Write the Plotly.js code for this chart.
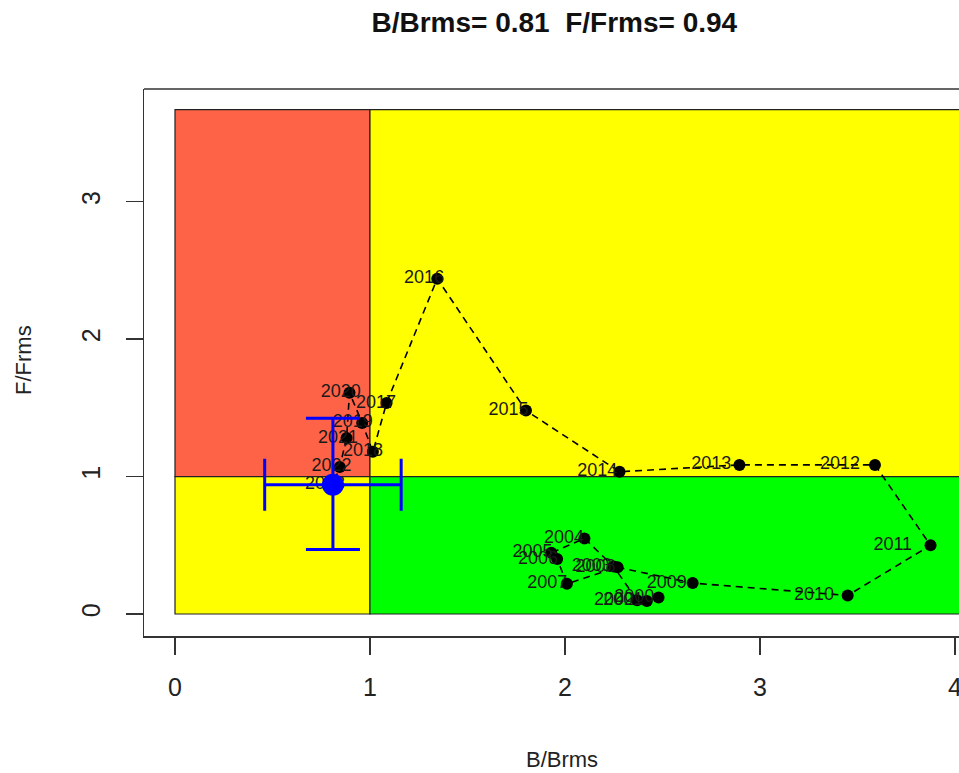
<!DOCTYPE html>
<html>
<head>
<meta charset="utf-8">
<script src="https://cdn.plot.ly/plotly-3.0.1.min.js"></script>
<style>html,body{margin:0;padding:0;background:#fff;}#chart{width:959px;height:773px;}</style>
</head>
<body>
<div id="chart"></div>
<script>
// Years and trajectory values (B/Brms, F/Frms)
const years = ["2000","2001","2002","2003","2004","2005","2006","2007","2008","2009","2010","2011",
               "2012","2013","2014","2015","2016","2017","2018","2019","2020","2021","2022","2023"];
const bRatio = [2.48, 2.42, 2.37, 2.25, 2.10, 1.93, 1.96, 2.01, 2.27, 2.655, 3.45, 3.875,
                3.59, 2.895, 2.28, 1.80, 1.345, 1.085, 1.015, 0.96, 0.895, 0.88, 0.845, 0.81];
const fRatio = [0.12, 0.095, 0.10, 0.345, 0.55, 0.445, 0.40, 0.22, 0.34, 0.225, 0.135, 0.50,
                1.085, 1.085, 1.035, 1.48, 2.44, 1.535, 1.18, 1.39, 1.61, 1.28, 1.07, 0.94];
// Current status and its confidence interval
const curB = 0.81, curF = 0.94;
const bLow = 0.46, bHigh = 1.16;
const fLow = 0.47, fHigh = 1.425;
// Quadrant extents
const xZoneMax = 4.3, yZoneMax = 3.67;
const xTicks = [0, 1, 2, 3, 4];
const yTicks = [0, 1, 2, 3];

const FONT = "Liberation Sans, Arial, Helvetica, sans-serif";
const labelX = bRatio.map(v => v * 0.95);

const traces = [
  {
    x: bRatio, y: fRatio, mode: "lines+markers", type: "scatter",
    line: {color: "#000", width: 1.6, dash: "7px,5px"},
    marker: {color: "#000", size: 12},
    hoverinfo: "skip", showlegend: false
  },
  {
    x: labelX, y: fRatio, text: years, mode: "text", type: "scatter",
    textposition: "middle center",
    textfont: {family: FONT, size: 18, color: "#1a1a1a"},
    hoverinfo: "skip", showlegend: false
  },
  {
    x: [curB], y: [curF], mode: "markers", type: "scatter",
    marker: {color: "#0000ff", size: 22},
    error_x: {type: "data", symmetric: false, array: [bHigh - curB], arrayminus: [curB - bLow],
              color: "#0000ff", thickness: 3, width: 26},
    error_y: {type: "data", symmetric: false, array: [fHigh - curF], arrayminus: [curF - fLow],
              color: "#0000ff", thickness: 3, width: 27},
    hoverinfo: "skip", showlegend: false
  }
];

const zoneLine = {color: "#222", width: 1.2};
const shapes = [
  {type: "rect", xref: "x", yref: "y", x0: 0, x1: 1, y0: 1, y1: yZoneMax, fillcolor: "#ff6347", line: zoneLine, layer: "below"},
  {type: "rect", xref: "x", yref: "y", x0: 1, x1: xZoneMax, y0: 1, y1: yZoneMax, fillcolor: "#ffff00", line: zoneLine, layer: "below"},
  {type: "rect", xref: "x", yref: "y", x0: 0, x1: 1, y0: 0, y1: 1, fillcolor: "#ffff00", line: zoneLine, layer: "below"},
  {type: "rect", xref: "x", yref: "y", x0: 1, x1: xZoneMax, y0: 0, y1: 1, fillcolor: "#00ff00", line: zoneLine, layer: "below"},
  {type: "line", xref: "paper", yref: "paper", x0: 0, x1: 1, y0: 1, y1: 1, line: {color: "#333", width: 1.5}}
];

const layout = {
  width: 959, height: 773,
  margin: {l: 144, r: 0, t: 89, b: 137},
  paper_bgcolor: "#fff", plot_bgcolor: "#fff",
  font: {family: FONT, color: "#222"},
  title: {
    text: "<b>B/Brms= 0.81  F/Frms= 0.94</b>",
    font: {family: FONT, size: 28, color: "#111"},
    xref: "container", x: 0.578, xanchor: "center",
    yref: "container", y: 1 - 22 / 773, yanchor: "middle"
  },
  xaxis: {
    range: [-0.159, 4.021], tickvals: xTicks, ticktext: xTicks.map(String),
    ticks: "outside", ticklen: 17, tickwidth: 1.5, tickcolor: "#333",
    showline: true, linecolor: "#333", linewidth: 1.5,
    showgrid: false, zeroline: false,
    tickfont: {family: FONT, size: 25, color: "#222"},
    ticklabelstandoff: 11, ticklabeloverflow: "allow"
  },
  yaxis: {
    range: [-0.16, 3.82], tickvals: yTicks, ticktext: yTicks.map(String),
    ticks: "outside", ticklen: 17, tickwidth: 1.5, tickcolor: "#333",
    showline: true, linecolor: "#333", linewidth: 1.5,
    showgrid: false, zeroline: false, tickangle: -90,
    tickfont: {family: FONT, size: 25, color: "#222"},
    ticklabelstandoff: 16, ticklabeloverflow: "allow"
  },
  shapes: shapes,
  annotations: [
    {text: "B/Brms", xref: "paper", yref: "paper", x: (562 - 144) / 815, y: -(760 - 636) / 547,
     xanchor: "center", yanchor: "middle", showarrow: false,
     font: {family: FONT, size: 22, color: "#222"}},
    {text: "F/Frms", xref: "paper", yref: "paper", x: (23 - 144) / 815, y: (636 - 360) / 547,
     xanchor: "center", yanchor: "middle", showarrow: false, textangle: -90,
     font: {family: FONT, size: 22, color: "#222"}}
  ]
};

Plotly.newPlot("chart", traces, layout, {displayModeBar: false, staticPlot: true});
</script>
</body>
</html>
